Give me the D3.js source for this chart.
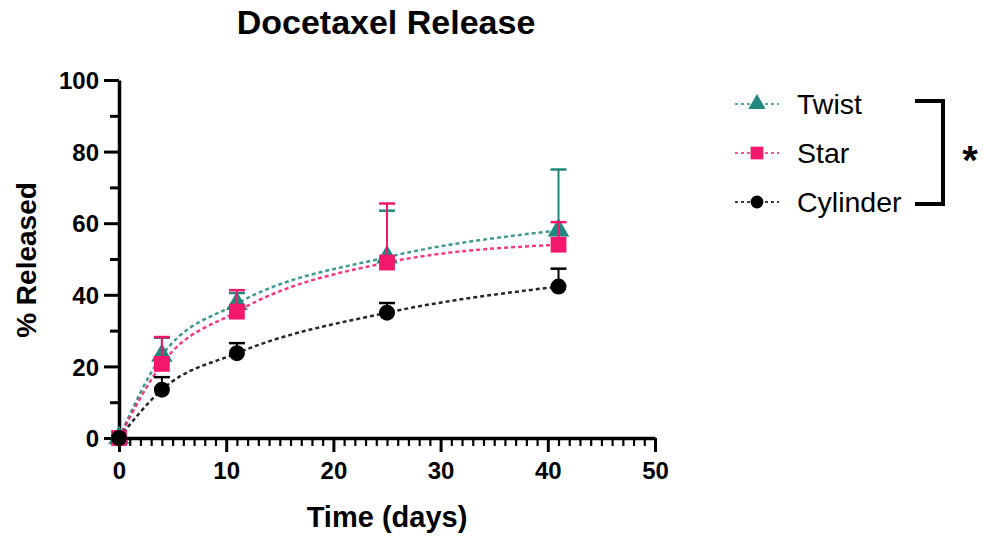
<!DOCTYPE html>
<html lang="en">
<head>
<meta charset="UTF-8">
<title>Docetaxel Release</title>
<script src="https://d3js.org/d3.v7.min.js"></script>
<style>
    body { margin: 0; background: #fff; }
    svg { font-family: "Liberation Sans", Arial, sans-serif; }
</style>
</head>
<body>
<svg id="chart"></svg>
<script>
    // data
    var days = [0, 4, 11, 25, 41];
    var twist = [0, 23, 37.5, 50.5, 58];
    var twistErr = [0, 5, 3, 13, 17];
    var star = [0, 20.7, 35.3, 49, 54];
    var starErr = [0, 7.5, 6, 16.5, 6.3];
    var cylinder = [0, 13.5, 23.7, 35, 42.3];
    var cylinderErr = [0, 3.5, 2.8, 2.7, 5];
    var xTicks = [0, 10, 20, 30, 40, 50];
    var yTicks = [0, 20, 40, 60, 80, 100];

    var series = [
        {name: "Twist", vals: twist, err: twistErr, color: "#22877f", shape: d3.symbolTriangle, size: 200},
        {name: "Star", vals: star, err: starErr, color: "#f2196c", shape: d3.symbolSquare, size: 250},
        {name: "Cylinder", vals: cylinder, err: cylinderErr, color: "#000000", shape: d3.symbolCircle, size: 200}
    ];

    var W = 983, H = 536;
    var svg = d3.select("#chart").attr("width", W).attr("height", H);

    var x = d3.scaleLinear().domain([0, 50]).range([119, 655]);
    var y = d3.scaleLinear().domain([0, 100]).range([438, 80]);

    // title
    svg.append("text").attr("x", 386).attr("y", 34).attr("text-anchor", "middle")
        .style("font-size", "34px").style("font-weight", "bold").text("Docetaxel Release");

    // y axis
    var yAxis = svg.append("g").attr("transform", "translate(" + x(0) + ",0)");
    yAxis.call(d3.axisLeft(y).tickValues(d3.range(0, 101, 10)).tickSize(0).tickFormat(""));
    yAxis.select(".domain").attr("stroke-width", 3.5);
    yAxis.selectAll(".tick line").attr("x2", function(d) { return d % 20 === 0 ? -15 : -9; })
        .attr("stroke-width", 3);
    yAxis.selectAll(".tick").filter(function(d) { return yTicks.indexOf(d) >= 0; }).append("text")
        .attr("x", -20).attr("dy", "0.36em").attr("text-anchor", "end").attr("fill", "#000")
        .style("font-size", "24px").style("font-weight", "bold").text(function(d) { return d; });

    // x axis
    var xAxis = svg.append("g").attr("transform", "translate(0," + y(0) + ")");
    xAxis.call(d3.axisBottom(x).tickValues(d3.range(0, 51, 1)).tickSize(0).tickFormat(""));
    xAxis.select(".domain").attr("stroke-width", 3.5);
    xAxis.selectAll(".tick line").attr("y2", function(d) { return d % 10 === 0 ? 14 : 8; })
        .attr("stroke-width", function(d) { return d % 10 === 0 ? 3 : 2.2; });
    xAxis.selectAll(".tick").filter(function(d) { return xTicks.indexOf(d) >= 0; }).append("text")
        .attr("y", 32).attr("dy", "0.36em").attr("text-anchor", "middle").attr("fill", "#000")
        .style("font-size", "24px").style("font-weight", "bold").text(function(d) { return d; });

    // axis titles
    svg.append("text").attr("transform", "translate(36,260) rotate(-90)").attr("text-anchor", "middle")
        .style("font-size", "28px").style("font-weight", "bold").text("% Released");
    svg.append("text").attr("x", 387).attr("y", 527).attr("text-anchor", "middle")
        .style("font-size", "29px").style("font-weight", "bold").text("Time (days)");

    var line = d3.line()
        .x(function(d) { return x(d[0]); })
        .y(function(d) { return y(d[1]); })
        .curve(d3.curveMonotoneX);

    // curves first
    series.forEach(function(s) {
        var pts = days.map(function(d, i) { return [d, s.vals[i]]; });
        svg.append("path").datum(pts).attr("d", line)
            .attr("fill", "none").attr("stroke", s.color).attr("stroke-width", 2.5)
            .attr("stroke-dasharray", "4,3").attr("opacity", 0.85);
    });

    // error bars + markers
    series.forEach(function(s) {
        var g = svg.append("g");
        days.forEach(function(d, i) {
            if (s.err[i] > 0) {
                var top = y(s.vals[i] + s.err[i]);
                g.append("line").attr("x1", x(d)).attr("x2", x(d))
                    .attr("y1", y(s.vals[i])).attr("y2", top)
                    .attr("stroke", s.color).attr("stroke-width", 2);
                g.append("line").attr("x1", x(d) - 8).attr("x2", x(d) + 8)
                    .attr("y1", top).attr("y2", top)
                    .attr("stroke", s.color).attr("stroke-width", 2.5);
            }
        });
        g.selectAll("path.pt").data(days).enter().append("path")
            .attr("transform", function(d, i) { return "translate(" + x(d) + "," + y(s.vals[i]) + ")"; })
            .attr("d", d3.symbol().type(s.shape).size(s.size))
            .attr("fill", s.color);
    });

    // legend
    var legY = [104, 153, 202];
    series.forEach(function(s, i) {
        var lg = svg.append("g").attr("transform", "translate(757," + legY[i] + ")");
        lg.append("line").attr("x1", -22).attr("x2", 22).attr("stroke", s.color)
            .attr("stroke-width", 1.5).attr("stroke-dasharray", "3,3");
        lg.append("path").attr("d", d3.symbol().type(s.shape).size(s.size * 0.65))
            .attr("fill", s.color);
        lg.append("text").attr("x", 40).attr("dy", "0.36em")
            .style("font-size", "28.5px").text(s.name);
    });

    // significance bracket
    svg.append("path").attr("d", "M915,101 H943 V204 H915")
        .attr("fill", "none").attr("stroke", "#000").attr("stroke-width", 4);
    svg.append("text").attr("x", 970).attr("y", 174).attr("text-anchor", "middle")
        .style("font-size", "40px").style("font-weight", "bold").text("*");
</script>
</body>
</html>
